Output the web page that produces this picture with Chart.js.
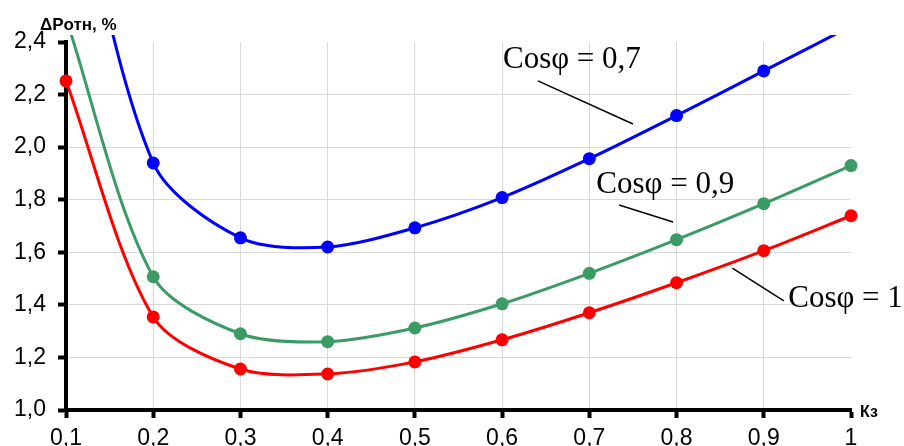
<!DOCTYPE html>
<html>
<head>
<meta charset="utf-8">
<script src="https://cdn.jsdelivr.net/npm/chart.js@4/dist/chart.umd.min.js"></script>
<style>
  body { margin: 0; background: #fff; }
  #wrap { width: 904px; height: 446px; }
</style>
</head>
<body>
<div id="wrap"><canvas id="chart" width="904" height="446"></canvas></div>
<script>
// load factor Kз on x, relative losses ΔPотн (%) on y
const kz = [0.1, 0.2, 0.3, 0.4, 0.5, 0.6, 0.7, 0.8, 0.9, 1.0];
const cos07 = [3.2, 1.94, 1.655, 1.62, 1.693, 1.808, 1.956, 2.12, 2.29, 2.46];
const cos09 = [2.49, 1.507, 1.29, 1.26, 1.312, 1.404, 1.52, 1.648, 1.785, 1.93];
const cos1 = [2.252, 1.354, 1.156, 1.137, 1.183, 1.267, 1.37, 1.484, 1.606, 1.739];

const seriesNames = ["Cosφ = 0,7", "Cosφ = 0,9", "Cosφ = 1"];
const seriesColors = ["#0000ff", "#3a9b65", "#ff0000"];
// label anchor (data coords) and leader line ends
const labelPos = [[0.601, 2.301], [0.708, 1.826], [0.928, 1.392]];
const leaders = [
  [[0.641, 2.252], [0.750, 2.088]],
  [[0.734, 1.780], [0.796, 1.715]],
  [[0.864, 1.540], [0.923, 1.415]],
];

function toPoints(ys) {
  return kz.map((x, i) => ({ x: x, y: ys[i] }));
}

function makeSet(i, ys, clip) {
  return {
    label: seriesNames[i],
    data: toPoints(ys),
    borderColor: seriesColors[i],
    backgroundColor: seriesColors[i],
    borderWidth: 3,
    pointRadius: 6.5,
    pointBorderWidth: 0,
    pointHoverRadius: 6.5,
    tension: 0.3,
    clip: clip,
  };
}

const labelsPlugin = {
  id: "labels",
  afterDraw(chart) {
    const ctx = chart.ctx;
    const xs = chart.scales.x;
    const ys = chart.scales.y;
    const area = chart.chartArea;
    ctx.save();
    ctx.fillStyle = "#000";
    ctx.strokeStyle = "#000";
    ctx.lineWidth = 1.5;
    leaders.forEach((l) => {
      ctx.beginPath();
      ctx.moveTo(xs.getPixelForValue(l[0][0]), ys.getPixelForValue(l[0][1]));
      ctx.lineTo(xs.getPixelForValue(l[1][0]), ys.getPixelForValue(l[1][1]));
      ctx.stroke();
    });
    ctx.font = '31px "Liberation Serif", "Times New Roman", serif';
    ctx.textAlign = "left";
    ctx.textBaseline = "alphabetic";
    labelPos.forEach((p, i) => {
      ctx.fillText(seriesNames[i], xs.getPixelForValue(p[0]), ys.getPixelForValue(p[1]));
    });
    ctx.font = 'bold 17px "Liberation Sans", Arial, sans-serif';
    ctx.fillText("ΔPотн, %", area.left - 26, area.top - 12);
    ctx.font = 'bold 16px "Liberation Sans", Arial, sans-serif';
    ctx.fillText("Кз", area.right + 9, area.bottom + 7);
    ctx.restore();
  },
};

const tickFont = { family: '"Liberation Sans", Arial, sans-serif', size: 23 };
const capClip = { left: 10, right: 10, top: 7, bottom: 0 };

new Chart(document.getElementById("chart"), {
  type: "line",
  data: {
    datasets: [
      makeSet(0, cos07, capClip),
      makeSet(1, cos09, capClip),
      makeSet(2, cos1, false),
    ],
  },
  options: {
    responsive: false,
    animation: false,
    layout: { padding: { top: 42, right: 53, left: 0, bottom: 0 } },
    plugins: { legend: { display: false }, tooltip: { enabled: false } },
    scales: {
      x: {
        type: "linear",
        min: 0.1,
        max: 1,
        afterFit: (s) => { s.height = 36; },
        border: { color: "#000", width: 4 },
        grid: {
          color: (c) => (c.tick && Math.abs(c.tick.value - 1) < 1e-6 ? "rgba(0,0,0,0)" : "#d9d9d9"),
          lineWidth: 1,
          tickColor: "#000",
          tickWidth: 4,
          tickLength: 8,
        },
        ticks: {
          stepSize: 0.1,
          color: "#000",
          font: tickFont,
          padding: 7,
          maxRotation: 0,
          callback: (v) => (Math.abs(v - 1) < 1e-6 ? "1" : v.toFixed(1).replace(".", ",")),
        },
      },
      y: {
        min: 1.0,
        max: 2.4,
        afterFit: (s) => { s.width = 66; },
        border: { color: "#000", width: 4 },
        grid: {
          color: (c) => (c.tick && Math.abs(c.tick.value - 2.4) < 1e-6 ? "rgba(0,0,0,0)" : "#d9d9d9"),
          lineWidth: 1,
          tickColor: "#000",
          tickWidth: 4,
          tickLength: 8,
        },
        ticks: {
          stepSize: 0.2,
          color: "#000",
          font: tickFont,
          padding: 12,
          callback: (v) => v.toFixed(1).replace(".", ","),
        },
      },
    },
  },
  plugins: [labelsPlugin],
});
</script>
</body>
</html>
